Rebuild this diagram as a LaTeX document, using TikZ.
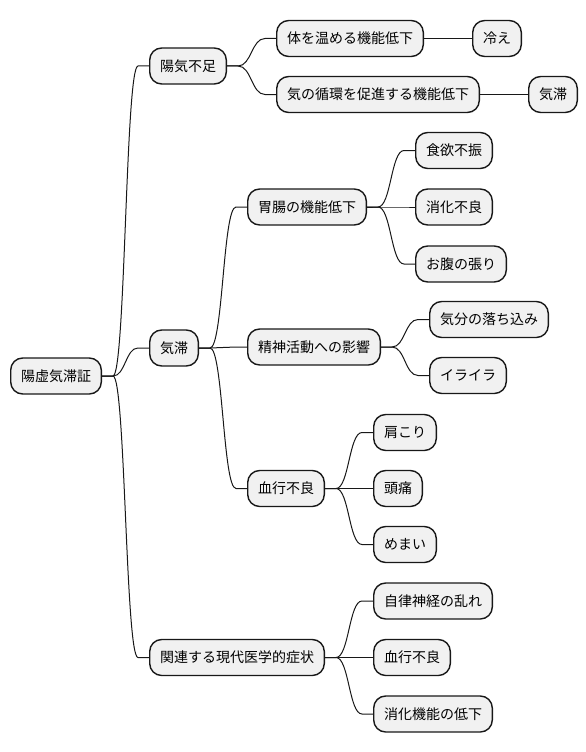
\documentclass[tikz,border=0pt]{standalone}
\usepackage{fontspec}
\setmainfont{Noto Sans CJK JP}
\usetikzlibrary{calc}
\definecolor{nodefill}{HTML}{F1F1F1}
\definecolor{nodeline}{HTML}{181818}
\tikzset{
  box/.style={draw=nodeline, fill=nodefill, line width=1.4pt, rounded corners=12pt,
    minimum height=36pt, inner xsep=10.3pt, inner ysep=0pt, anchor=west,
    font=\fontsize{14pt}{16pt}\selectfont, text=black},
  link/.style={draw=nodeline, line width=1pt}
}
\newcommand\conn[2]{%
  \draw[link] let \p1=(#1.east), \p2=(#2.west) in
    (\p1) -- (\x1+11pt,\y1) .. controls ({(\x1+\x2)/2},\y1) and ({(\x1+\x2)/2},\y2) .. (\x2-11pt,\y2) -- (\p2);}
\begin{document}
\begin{tikzpicture}[x=1pt,y=-1pt]
\useasboundingbox (0,0) rectangle (586,752);
\node[box] (root) at (10,376) {陽虚気滞証};
\node[box] (a) at (149,66) {陽気不足};
\node[box] (a1) at (276,38.5) {体を温める機能低下};
\node[box] (a1a) at (472,38.5) {冷え};
\node[box] (a2) at (276,94.5) {気の循環を促進する機能低下};
\node[box] (a2a) at (528,94.5) {気滞};
\node[box] (b) at (149,348) {気滞};
\node[box] (b1) at (247,207) {胃腸の機能低下};
\node[box] (b1a) at (415,150.5) {食欲不振};
\node[box] (b1b) at (415,207) {消化不良};
\node[box] (b1c) at (415,264) {お腹の張り};
\node[box] (b2) at (247,347) {精神活動への影響};
\node[box] (b2a) at (429,319.5) {気分の落ち込み};
\node[box] (b2b) at (429,375.5) {イライラ};
\node[box] (b3) at (247,488.5) {血行不良};
\node[box] (b3a) at (373,432.5) {肩こり};
\node[box] (b3b) at (373,488.5) {頭痛};
\node[box] (b3c) at (373,544.5) {めまい};
\node[box] (c) at (149,657.5) {関連する現代医学的症状};
\node[box] (c1) at (373,601) {自律神経の乱れ};
\node[box] (c2) at (373,657.5) {血行不良};
\node[box] (c3) at (373,714) {消化機能の低下};
\conn{root}{a}
\conn{root}{b}
\conn{root}{c}
\conn{a}{a1}
\conn{a}{a2}
\conn{a1}{a1a}
\conn{a2}{a2a}
\conn{b}{b1}
\conn{b}{b2}
\conn{b}{b3}
\conn{b1}{b1a}
\conn{b1}{b1b}
\conn{b1}{b1c}
\conn{b2}{b2a}
\conn{b2}{b2b}
\conn{b3}{b3a}
\conn{b3}{b3b}
\conn{b3}{b3c}
\conn{c}{c1}
\conn{c}{c2}
\conn{c}{c3}
\end{tikzpicture}
\end{document}
